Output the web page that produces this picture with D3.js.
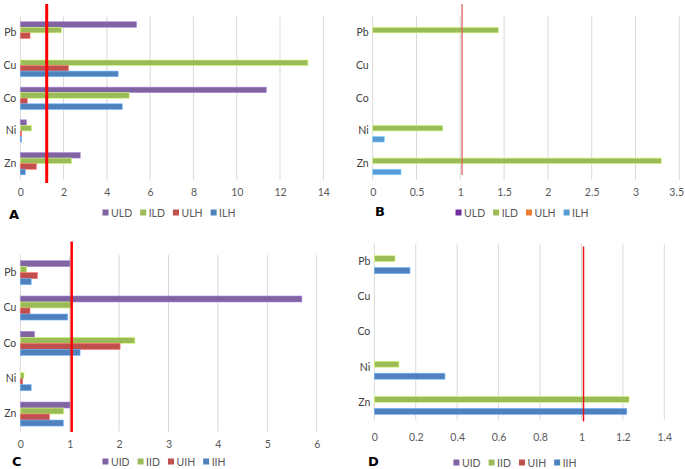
<!DOCTYPE html>
<html><head><meta charset="utf-8">
<script src="https://cdn.jsdelivr.net/npm/d3@7"></script>
<style>
html,body{margin:0;padding:0;background:#fff;}
svg{display:block;}
text{font-family:Lato,"Open Sans",sans-serif;}
</style></head>
<body>
<script>
// ---- data ----
const categories = ["Pb","Cu","Co","Ni","Zn"];

const seriesA = ["ULD","ILD","ULH","ILH"];
const A_ULD = [5.37, 0, 11.37, 0.29, 2.77];
const A_ILD = [1.91, 13.29, 5.03, 0.52, 2.37];
const A_ULH = [0.45, 2.22, 0.32, 0.06, 0.74];
const A_ILH = [0, 4.52, 4.71, 0.06, 0.23];
const ticksA = [0,2,4,6,8,10,12,14];
const refA = 1.22;

const seriesB = ["ULD","ILD","ULH","ILH"];
const B_ULD = [0, 0, 0, 0, 0];
const B_ILD = [1.435, 0, 0, 0.80, 3.295];
const B_ULH = [0, 0, 0, 0, 0];
const B_ILH = [0, 0, 0, 0.133, 0.323];
const ticksB = [0,0.5,1,1.5,2,2.5,3,3.5];
const refB = 1.02;

const seriesC = ["UID","IID","UIH","IIH"];
const C_UID = [1.006, 5.70, 0.29, 0, 1.006];
const C_IID = [0.13, 1.06, 2.32, 0.075, 0.88];
const C_UIH = [0.345, 0.196, 2.02, 0.048, 0.59];
const C_IIH = [0.22, 0.96, 1.21, 0.22, 0.87];
const ticksC = [0,1,2,3,4,5,6];
const refC = 1.04;

const seriesD = ["UID","IID","UIH","IIH"];
const D_UID = [0, 0, 0, 0, 0];
const D_IID = [0.10, 0, 0, 0.119, 1.23];
const D_UIH = [0, 0, 0, 0, 0];
const D_IIH = [0.172, 0, 0, 0.341, 1.219];
const ticksD = [0,0.2,0.4,0.6,0.8,1,1.2,1.4];
const refD = 1.01;

const colorsStd = ["#8064a2","#9bbb59","#c0504d","#4f81bd"];
const colorsB = ["#7030a0","#9bbb59","#ed7d31","#5b9bd5"];

// ---- layout / drawing ----
const svg = d3.select("body").append("svg").attr("width",685).attr("height",469);

const panels = [
  {letter:"A", series:seriesA, values:[A_ULD,A_ILD,A_ULH,A_ILH], ticks:ticksA, ref:refA, colors:colorsStd,
   x0:20.3, x1:323.3, y0:16.5, y1:180, refTop:4, refBot:183, refW:3, refColor:"#ff0000", refOp:1,
   tickY:198, legY:213, legCx:169, letX:9, letY:219},
  {letter:"B", series:seriesB, values:[B_ULD,B_ILD,B_ULH,B_ILH], ticks:ticksB, ref:refB, colors:colorsB,
   x0:372.7, x1:679.3, y0:16.5, y1:180, refTop:4, refBot:175, refW:1.5, refColor:"#e06060", refOp:0.85,
   tickY:198, legY:213, legCx:522, letX:375, letY:216},
  {letter:"C", series:seriesC, values:[C_UID,C_IID,C_UIH,C_IIH], ticks:ticksC, ref:refC, colors:colorsStd,
   x0:20.3, x1:316.7, y0:255, y1:431.7, refTop:241.5, refBot:432, refW:2.5, refColor:"#ff0000", refOp:1,
   tickY:450, legY:462, legCx:164, letX:12, letY:466},
  {letter:"D", series:seriesD, values:[D_UID,D_IID,D_UIH,D_IIH], ticks:ticksD, ref:refD, colors:colorsStd,
   x0:374.3, x1:664.3, y0:244, y1:420, refTop:246.5, refBot:421.5, refW:1.5, refColor:"#e8161b", refOp:1,
   tickY:443, legY:463, legCx:515, letX:368, letY:466}
];

panels.forEach(p => {
  const g = svg.append("g");
  const dom = [0, p.ticks[p.ticks.length-1]];
  const x = d3.scaleLinear().domain(dom).range([p.x0, p.x1]);
  const y = d3.scaleBand().domain(categories).range([p.y0, p.y1]).padding(0);
  const bw = y.bandwidth();
  const ys = d3.scaleBand().domain(p.series).range([-0.34*bw, 0.34*bw]).padding(0);

  // gridlines
  g.append("g").selectAll("line").data(p.ticks).join("line")
    .attr("x1", d=>x(d)).attr("x2", d=>x(d))
    .attr("y1", p.y0).attr("y2", p.y1)
    .attr("stroke", "#d9d9d9").attr("stroke-width", 1);

  // axis tick labels via d3 axis
  const axis = d3.axisBottom(x).tickValues(p.ticks).tickSize(0).tickPadding(0)
    .tickFormat(d => String(d));
  const ax = g.append("g").attr("transform", `translate(0,${p.tickY-9})`).call(axis);
  ax.select(".domain").remove();
  ax.selectAll("text").attr("fill","#595959").style("font-size","10.5px").style("font-family","Lato, 'Open Sans', sans-serif");
  // keep the last label inside the page
  ax.selectAll("text").each(function(){
    const bb = this.getBBox();
    const tx = +this.parentNode.getAttribute("transform").match(/translate\(([-\d.]+)/)[1];
    const right = tx + bb.x + bb.width;
    if (right > 684) d3.select(this).attr("dx", (684 - right) + "px");
  });

  // category labels
  const ay = d3.axisLeft(y).tickSize(0).tickPadding(0);
  const ayg = g.append("g").attr("transform", `translate(${p.x0 - 4},0)`).call(ay);
  ayg.select(".domain").remove();
  ayg.selectAll("text").attr("fill","#404040").style("font-size","10.5px").style("font-family","Lato, 'Open Sans', sans-serif");

  // bars
  p.series.forEach((s, si) => {
    const vals = p.values[si];
    const col = p.colors[si];
    g.append("g").selectAll("rect").data(categories.map((c,i)=>({c, v:vals[i]})).filter(d=>d.v>0))
      .join("rect")
      .attr("x", x(0))
      .attr("y", d => y(d.c) + bw/2 + ys(s))
      .attr("width", d => x(d.v) - x(0))
      .attr("height", ys.bandwidth())
      .attr("fill", col)
      .attr("stroke", d3.color(col).brighter(0.9))
      .attr("stroke-width", 0.6);
  });

  // reference line
  g.append("line")
    .attr("x1", x(p.ref)).attr("x2", x(p.ref))
    .attr("y1", p.refTop).attr("y2", p.refBot)
    .attr("stroke", p.refColor).attr("stroke-width", p.refW).attr("opacity", p.refOp);

  // legend
  const leg = g.append("g").attr("transform", `translate(0,${p.legY})`);
  let cx = 0;
  const items = [];
  p.series.forEach((s, si) => {
    const it = leg.append("g");
    it.append("rect").attr("x",0).attr("y",-3.5).attr("width",6).attr("height",6).attr("fill",p.colors[si]);
    const t = it.append("text").attr("x",8.5).attr("y",3.6).text(s)
      .attr("fill","#595959").style("font-size","10.5px");
    const w = 8.5 + t.node().getComputedTextLength();
    items.push({it, off:cx});
    cx += w + 8;
  });
  const total = cx - 8;
  items.forEach(d => d.it.attr("transform", `translate(${p.legCx - total/2 + d.off},0)`));

  // panel letter
  g.append("text").attr("x", p.letX).attr("y", p.letY).text(p.letter)
    .style("font-family","'DejaVu Sans', Arial, sans-serif").style("font-weight","900")
    .style("font-size","13px").attr("fill","#000");
});
</script>
</body></html>
